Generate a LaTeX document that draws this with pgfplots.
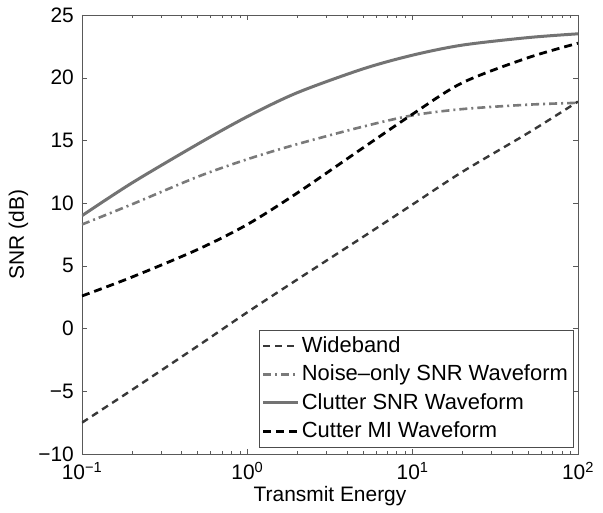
\documentclass[border=0pt]{standalone}
\usepackage{fontspec}
\setmainfont{Liberation Sans}
\usepackage{pgfplots}
\pgfplotsset{compat=1.18}
\begin{document}
\fontsize{21}{25}\selectfont
\begin{tikzpicture}[x=1bp,y=1bp]
\begin{axis}[
  name=ax, at={(0,0)}, anchor=south west,
  scale only axis, width=496bp, height=439bp,
  xmode=log, xmin=0.1, xmax=100, ymin=-10, ymax=25,
  xtick={0.1,1,10,100},
  xticklabels={10\textsuperscript{−1},10\textsuperscript{0},10\textsuperscript{1},10\textsuperscript{2}},
  ytick={-10,-5,0,5,10,15,20,25},
  yticklabels={−10,−5,0,5,10,15,20,25},
  tick align=inside, major tick length=5bp, minor tick length=3bp,
  axis line style={black!65}, every tick/.style={black!65},
  tick label style={font=\fontsize{21}{25}\selectfont},
  xlabel={Transmit Energy}, ylabel={SNR (dB)},
  label style={font=\fontsize{21}{25}\selectfont},
  xlabel style={yshift=8bp}, ylabel style={yshift=-4bp},
  xticklabel style={yshift=-1bp}, yticklabel style={xshift=-1bp},
  legend style={at={(0.99,0.016)}, anchor=south east, draw=black!70,
    font=\fontsize{22}{26}\selectfont, row sep=5.5bp, inner xsep=3bp, inner ysep=4bp},
  legend cell align=left,
  legend image code/.code={\draw[#1] (0bp,0bp) -- (35bp,0bp);},
]
\addplot[black!78, line width=2.4bp, dash pattern=on 7bp off 5bp, smooth] coordinates {
 (0.1,-7.5) (0.2,-4.9) (0.5,-1.4) (1,1.3) (2,3.9) (5,7.3) (10,9.9) (20,12.5) (50,15.6) (100,18.1)};
\addlegendentry{Wideband}
\addplot[black!52, line width=2.6bp, dash pattern=on 8bp off 4bp on 2bp off 4bp, smooth] coordinates {
 (0.1,8.3) (0.2,9.9) (0.5,12.1) (1,13.5) (2,14.7) (5,16.1) (10,17.0) (20,17.5) (50,17.85) (100,18.0)};
\addlegendentry{Noise--only SNR Waveform}
\addplot[black!55, line width=3bp, smooth] coordinates {
 (0.1,9.0) (0.2,11.6) (0.5,14.7) (1,16.9) (2,18.8) (5,20.7) (10,21.8) (20,22.6) (50,23.2) (100,23.5)};
\addlegendentry{Clutter SNR Waveform}
\addplot[black, line width=2.8bp, dash pattern=on 8bp off 5bp, smooth] coordinates {
 (0.1,2.6) (0.2,4.1) (0.5,6.3) (1,8.3) (2,10.8) (5,14.4) (10,17.1) (20,19.6) (50,21.6) (100,22.75)};
\addlegendentry{Cutter MI Waveform}
\end{axis}
\path (ax.south west) ++(-82bp,-59bp) rectangle ++(603bp,513bp);
\end{tikzpicture}
\end{document}
